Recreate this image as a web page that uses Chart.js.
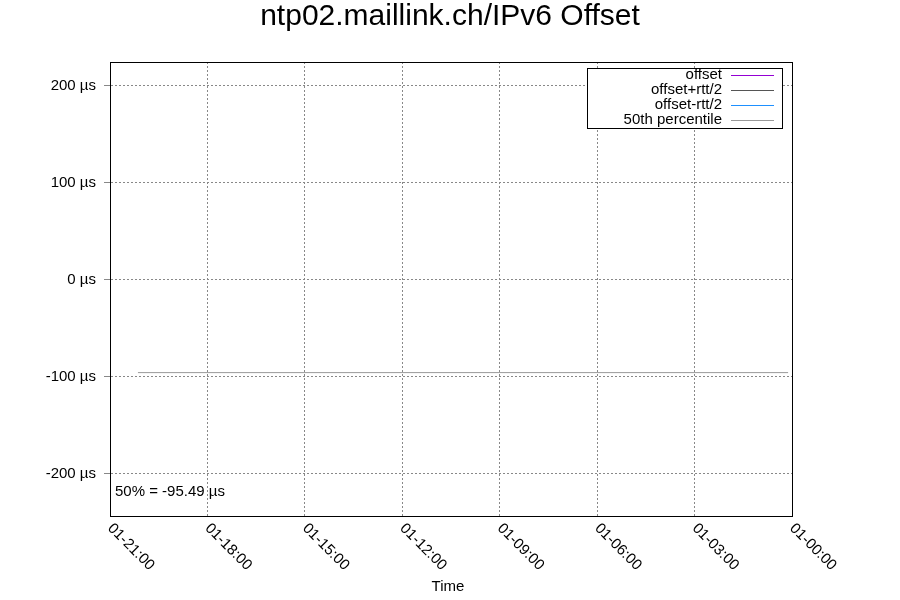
<!DOCTYPE html>
<html><head><meta charset="utf-8">
<script src="https://cdn.jsdelivr.net/npm/chart.js"></script>
<style>body{margin:0;background:#fff}#w{width:900px;height:600px}</style>
</head><body><div id="w"><canvas id="c"></canvas></div>
<script>
// hours before 01-00:00
const xTickValues = [21, 18, 15, 12, 9, 6, 3, 0];
const xTickLabels = ["01-21:00","01-18:00","01-15:00","01-12:00","01-09:00","01-06:00","01-03:00","01-00:00"];
const yTickValues = [-200, -100, 0, 100, 200];
const pctX = [20.14, 0.12];
const pctY = [-95.49, -95.49];
const offsetPts = [];
const plusPts = [];
const minusPts = [];
const legendNames = ["offset","offset+rtt/2","offset-rtt/2","50th percentile"];
const legendColors = ["#9400d3","#555555","#1e90ff","#999999"];

const font = "Liberation Sans, Arial, sans-serif";
const overlay = {
  id:'overlay',
  afterDraw(ch){
    const c=ch.ctx, xs=ch.scales.x, a=ch.chartArea;
    c.save();
    c.strokeStyle='#000'; c.lineWidth=1; c.strokeRect(a.left+0.5,a.top+0.5,a.right-a.left,a.bottom-a.top);
    c.fillStyle='#000';
    c.font='30px '+font; c.textAlign='center'; c.textBaseline='middle'; c.fillText('ntp02.maillink.ch/IPv6 Offset',450,17);
    c.font='15px '+font;
    xTickValues.forEach((v,i)=>{
      const px=xs.getPixelForValue(v);
      c.save(); c.translate(px,a.bottom+10); c.rotate(Math.PI/4);
      c.textAlign='left'; c.textBaseline='middle'; c.fillText(xTickLabels[i],0,0); c.restore();
    });
    c.textAlign='center'; c.textBaseline='middle'; c.fillText('Time',448,587);
    c.textAlign='left'; c.fillText('50% = -95.49 µs',a.left+5,492);
    // legend
    const lx=587, ly=68, lw=195, lh=60;
    c.fillStyle='#fff'; c.fillRect(lx,ly,lw,lh);
    c.strokeStyle='#000'; c.strokeRect(lx+0.5,ly+0.5,lw,lh);
    c.textAlign='right'; c.fillStyle='#000';
    legendNames.forEach((n,i)=>{
      const y=ly+7+i*15;
      c.fillText(n,lx+135,y);
      c.strokeStyle=legendColors[i]; c.beginPath(); c.moveTo(lx+144,y+0.5); c.lineTo(lx+187,y+0.5); c.stroke();
    });
    c.restore();
  }
};
new Chart(document.getElementById('c'),{
  type:'scatter',
  data:{datasets:[
    {label:legendNames[0],data:offsetPts,borderColor:legendColors[0],showLine:true,pointRadius:0,borderWidth:1},
    {label:legendNames[1],data:plusPts,borderColor:legendColors[1],showLine:true,pointRadius:0,borderWidth:1},
    {label:legendNames[2],data:minusPts,borderColor:legendColors[2],showLine:true,pointRadius:0,borderWidth:1},
    {label:legendNames[3],data:pctX.map((x,i)=>({x,y:pctY[i]})),borderColor:legendColors[3],showLine:true,pointRadius:0,borderWidth:1}
  ]},
  options:{
    responsive:true,maintainAspectRatio:false,animation:false,
    layout:{padding:{left:0,right:108,top:62,bottom:84}},
    plugins:{legend:{display:false},tooltip:{enabled:false},title:{display:false}},
    scales:{
      x:{type:'linear',reverse:true,min:0,max:21,
        afterBuildTicks(ax){ax.ticks=xTickValues.map(v=>({value:v}));},
        ticks:{display:false},
        grid:{color:'#888',lineWidth:1,tickLength:0},
        border:{display:true,color:'#000',dash:[2,2]}},
      y:{min:-243.3,max:224.7,
        afterBuildTicks(ax){ax.ticks=yTickValues.map(v=>({value:v}));},
        afterFit(ax){ax.width=110;},
        ticks:{color:'#000',font:{family:font,size:15},padding:8,callback:v=>v+' µs'},
        grid:{color:'#888',lineWidth:1,tickLength:6},
        border:{display:true,color:'#000',dash:[2,2]}}
    }
  },
  plugins:[overlay]
});
</script></body></html>
